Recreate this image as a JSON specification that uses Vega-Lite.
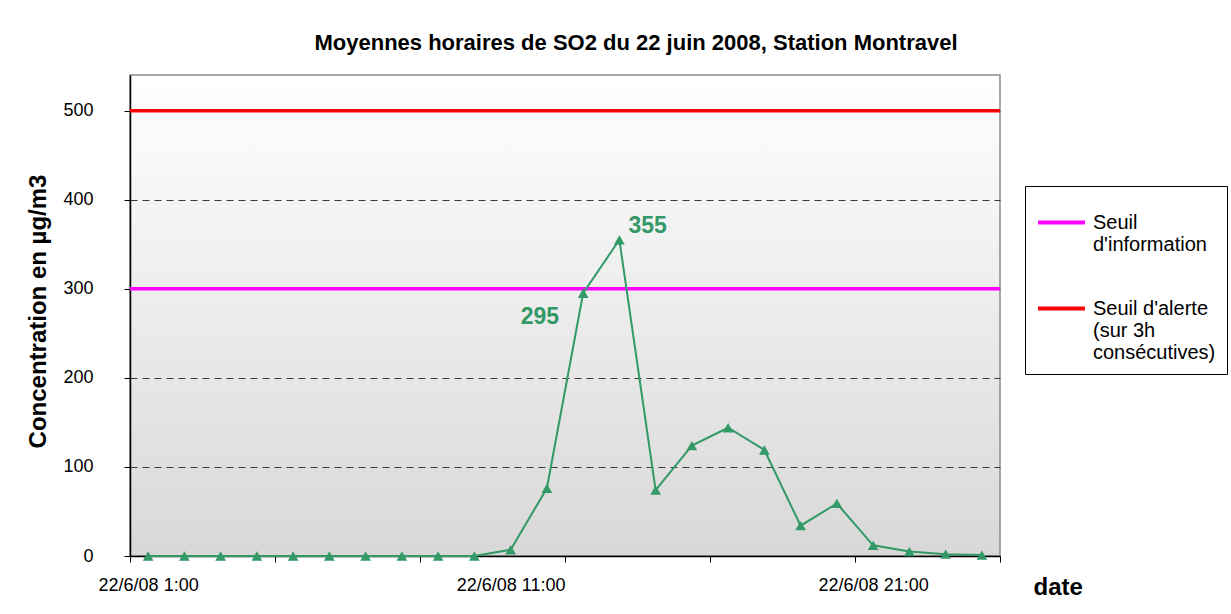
{
  "$schema": "https://vega.github.io/schema/vega-lite/v6.json",
  "width": 870,
  "height": 481,
  "autosize": {"type": "none"},
  "padding": {"left": 130, "top": 75, "right": 231, "bottom": 58},
  "background": "white",
  "config": {
    "font": "Liberation Sans",
    "view": {
      "fill": {"gradient": "linear", "x1": 0, "y1": 0, "x2": 0, "y2": 1,
        "stops": [{"offset": 0, "color": "#ffffff"}, {"offset": 1, "color": "#d8d8d8"}]},
      "stroke": "#8c8c8c",
      "strokeWidth": 1.5
    }
  },
  "title": {
    "text": "Moyennes horaires de SO2 du 22 juin 2008, Station Montravel",
    "anchor": "middle",
    "dx": 71,
    "dy": 26,
    "offset": 29,
    "baseline": "alphabetic",
    "fontSize": 22,
    "fontWeight": "bold",
    "font": "Liberation Sans",
    "color": "#000000"
  },
  "datasets": {
    "so2": [
      {"h": 1, "v": 0}, {"h": 2, "v": 0}, {"h": 3, "v": 0}, {"h": 4, "v": 0},
      {"h": 5, "v": 0}, {"h": 6, "v": 0}, {"h": 7, "v": 0}, {"h": 8, "v": 0},
      {"h": 9, "v": 0}, {"h": 10, "v": 0}, {"h": 11, "v": 7}, {"h": 12, "v": 76},
      {"h": 13, "v": 295}, {"h": 14, "v": 355}, {"h": 15, "v": 74}, {"h": 16, "v": 124},
      {"h": 17, "v": 144}, {"h": 18, "v": 119}, {"h": 19, "v": 34}, {"h": 20, "v": 59},
      {"h": 21, "v": 12}, {"h": 22, "v": 5}, {"h": 23, "v": 2}, {"h": 24, "v": 1}
    ],
    "seuils": [
      {"seuil": "Seuil d'information", "valeur": 300},
      {"seuil": "Seuil d'alerte (sur 3h consécutives)", "valeur": 500}
    ]
  },
  "layer": [
    {
      "data": {"name": "seuils"},
      "mark": {"type": "rule", "strokeWidth": 3.5},
      "encoding": {
        "y": {
          "field": "valeur", "type": "quantitative",
          "scale": {"domain": [0, 540], "nice": false, "zero": true},
          "axis": {
            "values": [0, 100, 200, 300, 400, 500],
            "grid": true, "gridDash": [7, 5], "gridColor": "#3a3a3a", "gridWidth": 1,
            "tickSize": 6, "tickColor": "#000000", "tickWidth": 1,
            "domainColor": "#000000", "domainWidth": 1.5,
            "labelFontSize": 18, "labelColor": "#000000", "labelPadding": 31,
            "title": "Concentration en µg/m3",
            "titleFontSize": 24, "titleFontWeight": "bold", "titleColor": "#000000",
            "titleAngle": -90, "titleX": -85, "titleY": 236,
            "titleAlign": "center", "titleBaseline": "alphabetic"
          }
        },
        "color": {
          "field": "seuil", "type": "nominal",
          "scale": {
            "domain": ["Seuil d'information", "Seuil d'alerte (sur 3h consécutives)"],
            "range": ["#ff00ff", "#ff0000"]
          },
          "legend": {
            "title": null,
            "orient": "none",
            "legendX": 895,
            "legendY": 111,
            "strokeColor": "#000000",
            "fillColor": "#ffffff",
            "padding": 11,
            "symbolType": "stroke",
            "symbolSize": 2200,
            "symbolStrokeWidth": 4,
            "labelFontSize": 20,
            "labelColor": "#000000",
            "labelOffset": 6,
            "labelLimit": 400,
            "rowPadding": 28,
            "labelExpr": "datum.label == \"Seuil d'information\" ? [\"Seuil\", \"d'information\"] : [\"Seuil d'alerte\", \"(sur 3h\", \"consécutives)\"]"
          }
        }
      }
    },
    {
      "data": {"name": "so2"},
      "mark": {
        "type": "line", "color": "#339966", "strokeWidth": 2,
        "point": {"shape": "triangle-up", "size": 115, "filled": true, "color": "#339966"}
      },
      "encoding": {
        "x": {
          "field": "h", "type": "quantitative",
          "scale": {"domain": [0.5, 24.5], "nice": false, "zero": false},
          "axis": {
            "values": [0.5, 1, 4.5, 8.5, 11, 12.5, 16.5, 20.5, 21, 24.5],
            "labelExpr": "datum.value == 1 ? '22/6/08 1:00' : datum.value == 11 ? '22/6/08 11:00' : datum.value == 21 ? '22/6/08 21:00' : ''",
            "labelOverlap": false,
            "labelFontSize": 18, "labelColor": "#000000", "labelPadding": 14,
            "labelBound": false, "labelFlush": false,
            "grid": false,
            "tickSize": 6, "tickColor": "#000000", "tickWidth": 1,
            "tickOpacity": {"condition": {"test": "datum.value == 1 || datum.value == 11 || datum.value == 21", "value": 0}, "value": 1},
            "domainColor": "#000000", "domainWidth": 1.5,
            "title": "date",
            "titleFontSize": 24, "titleFontWeight": "bold", "titleColor": "#000000",
            "titleX": 903, "titleY": 38, "titleAlign": "left", "titleBaseline": "alphabetic"
          }
        },
        "y": {"field": "v", "type": "quantitative"}
      }
    },
    {
      "data": {"name": "so2"},
      "transform": [{"filter": "datum.h == 14"}],
      "mark": {"type": "text", "align": "left", "baseline": "alphabetic", "dx": 9, "dy": -7,
        "fontSize": 23, "fontWeight": "bold", "color": "#339966"},
      "encoding": {
        "x": {"field": "h", "type": "quantitative"},
        "y": {"field": "v", "type": "quantitative"},
        "text": {"field": "v", "type": "quantitative"}
      }
    },
    {
      "data": {"name": "so2"},
      "transform": [{"filter": "datum.h == 13"}],
      "mark": {"type": "text", "align": "right", "baseline": "alphabetic", "dx": -24, "dy": 31,
        "fontSize": 23, "fontWeight": "bold", "color": "#339966"},
      "encoding": {
        "x": {"field": "h", "type": "quantitative"},
        "y": {"field": "v", "type": "quantitative"},
        "text": {"field": "v", "type": "quantitative"}
      }
    }
  ]
}
